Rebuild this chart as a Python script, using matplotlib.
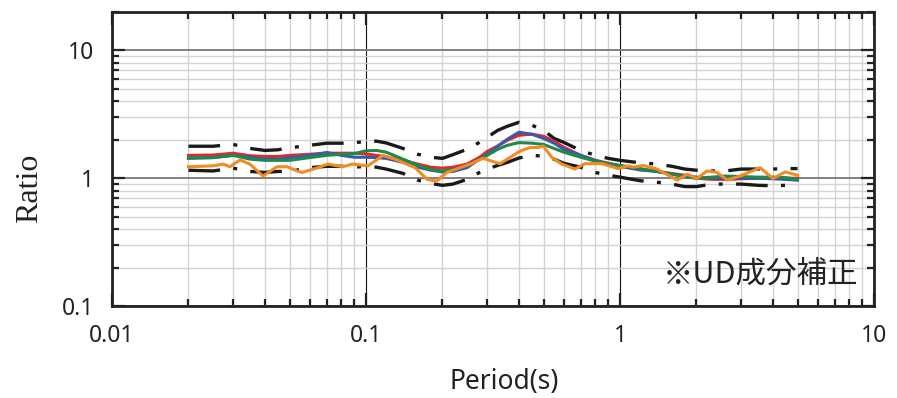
import numpy as np
import matplotlib
matplotlib.use("Agg")
import matplotlib.pyplot as plt
from matplotlib.ticker import LogLocator, FixedLocator, NullFormatter


# periods (s) shared by the mean / bound curves
period = [0.02, 0.025, 0.03, 0.035, 0.04, 0.045, 0.05, 0.06, 0.07, 0.08, 0.09,
          0.1, 0.11, 0.12, 0.14, 0.16, 0.18, 0.2, 0.22, 0.25, 0.28, 0.3, 0.33,
          0.36, 0.4, 0.45, 0.5, 0.55, 0.6, 0.7, 0.8, 0.9, 1.0, 1.2, 1.4, 1.6,
          1.8, 2.0, 2.3, 2.6, 3.0, 3.5, 4.0, 4.5, 5.0]

upper = [1.78, 1.78, 1.84, 1.71, 1.65, 1.67, 1.73, 1.81, 1.88, 1.88, 1.89,
         1.95, 1.95, 1.89, 1.71, 1.54, 1.46, 1.43, 1.53, 1.685, 1.91, 2.09, 2.37,
         2.55, 2.74, 2.60, 2.37, 2.05, 1.91, 1.65, 1.51, 1.43, 1.38, 1.32, 1.29,
         1.24, 1.18, 1.155, 1.14, 1.14, 1.18, 1.18, 1.18, 1.19, 1.19]

lower = [1.155, 1.14, 1.20, 1.13, 1.11, 1.13, 1.13, 1.21, 1.24, 1.24, 1.22,
         1.24, 1.22, 1.18, 1.09, 0.965, 0.91, 0.88, 0.90, 0.98, 1.11, 1.18, 1.26,
         1.33, 1.44, 1.51, 1.49, 1.41, 1.31, 1.22, 1.11, 1.055, 1.02, 0.956, 0.93,
         0.90, 0.86, 0.86, 0.90, 0.90, 0.90, 0.88, 0.874, 0.88, 0.85]

red = [1.51, 1.52, 1.57, 1.50, 1.48, 1.48, 1.51, 1.54, 1.57, 1.57, 1.57,
       1.55, 1.51, 1.47, 1.38, 1.29, 1.22, 1.20, 1.22, 1.29, 1.46, 1.62, 1.79,
       1.98, 2.17, 2.21, 2.13, 1.95, 1.75, 1.51, 1.38, 1.31, 1.25, 1.176, 1.13,
       1.09, 1.055, 1.00, 0.98, 0.98, 0.99, 1.00, 1.00, 1.00, 1.00]

blue = [1.43, 1.45, 1.51, 1.46, 1.41, 1.41, 1.45, 1.51, 1.59, 1.51, 1.46,
        1.46, 1.45, 1.43, 1.33, 1.22, 1.155, 1.12, 1.13, 1.21, 1.41, 1.54, 1.78,
        2.02, 2.29, 2.21, 2.05, 1.88, 1.685, 1.51, 1.38, 1.29, 1.24, 1.16, 1.13,
        1.075, 1.04, 1.02, 1.00, 1.00, 1.00, 1.00, 0.99, 0.98, 0.965]

green = [1.45, 1.45, 1.51, 1.41, 1.38, 1.38, 1.38, 1.45, 1.51, 1.54, 1.56,
         1.64, 1.65, 1.60, 1.41, 1.26, 1.17, 1.14, 1.176, 1.25, 1.41, 1.51, 1.685,
         1.81, 1.90, 1.88, 1.84, 1.71, 1.60, 1.46, 1.36, 1.30, 1.26, 1.19, 1.13,
         1.075, 1.03, 1.00, 1.02, 1.04, 1.03, 1.02, 1.02, 1.01, 0.98]

# orange curve is jagged, read on its own periods
period_orange = [0.02, 0.025, 0.0274, 0.0291, 0.0319, 0.0349, 0.0393, 0.0446,
                 0.0489, 0.0535, 0.056, 0.0647, 0.0708, 0.0811, 0.0881, 0.1018,
                 0.1167, 0.130, 0.156, 0.174, 0.190, 0.208, 0.257, 0.289, 0.337,
                 0.404, 0.443, 0.476, 0.498, 0.540, 0.591, 0.665, 0.728, 0.849,
                 0.982, 1.074, 1.125, 1.232, 1.40, 1.68, 1.84, 2.01, 2.20, 2.41,
                 2.64, 2.97, 3.56, 4.0, 4.47, 5.0]
orange = [1.23, 1.25, 1.29, 1.23, 1.39, 1.29, 1.04, 1.23, 1.23, 1.14,
          1.11, 1.21, 1.29, 1.23, 1.29, 1.25, 1.51, 1.41, 1.21, 0.98,
          0.95, 1.11, 1.29, 1.43, 1.30, 1.63, 1.74, 1.74, 1.79, 1.45,
          1.29, 1.18, 1.30, 1.30, 1.19, 1.25, 1.22, 1.26, 1.18, 0.965,
          1.075, 0.995, 1.14, 1.11, 0.97, 1.04, 1.21, 0.995, 1.12, 1.055]

xticks = [0.01, 0.1, 1, 10]
xtick_labels = ["0.01", "0.1", "1", "10"]
yticks = [0.1, 1, 10]
ytick_labels = ["0.1", "1", "10"]

SANS = ["Noto Sans", "DejaVu Sans"]
CJK = ["Noto Sans CJK JP", "DejaVu Sans"]


def style_axes(ax) -> None:
    ax.set_xscale("log")
    ax.set_yscale("log")
    ax.set_xlim(0.01, 10)
    ax.set_ylim(0.1, 20)

    ax.xaxis.set_major_locator(FixedLocator(xticks))
    ax.yaxis.set_major_locator(FixedLocator(yticks))
    ax.xaxis.set_minor_locator(LogLocator(base=10, subs=np.arange(2, 10)))
    ax.yaxis.set_minor_locator(LogLocator(base=10, subs=np.arange(2, 10)))
    ax.xaxis.set_minor_formatter(NullFormatter())
    ax.yaxis.set_minor_formatter(NullFormatter())
    ax.set_xticklabels(xtick_labels, fontfamily=SANS, fontsize=16.5, color="#222222")
    ax.set_yticklabels(ytick_labels, fontfamily=SANS, fontsize=16.5, color="#222222")

    ax.tick_params(which="both", direction="in", top=True, right=True,
                   color="#222222", width=1.6)
    ax.tick_params(which="major", length=9.5, pad=13)
    ax.tick_params(which="minor", length=5)

    # grid: light minor lines, darker majors (x black, y grey)
    ax.grid(which="minor", color="#d2d2d2", linewidth=1.0)
    ax.grid(which="major", axis="x", color="#111111", linewidth=0.8)
    ax.grid(which="major", axis="y", color="#808080", linewidth=1.4)
    ax.set_axisbelow(True)

    for sp in ax.spines.values():
        sp.set_linewidth(2.0)
        sp.set_color("#222222")


if __name__ == "__main__":

    fig = plt.figure(figsize=(8.97, 3.98), dpi=100)
    ax = fig.add_axes([112 / 897, 1 - 306 / 398, (874 - 112) / 897, (306 - 12) / 398])
    style_axes(ax)

    dashdot = (0, (9.5, 4, 1.2, 4))
    ax.plot(period, upper, color="#1a1a1a", lw=2.4, linestyle=dashdot)
    ax.plot(period, lower, color="#1a1a1a", lw=2.4, linestyle=dashdot)
    ax.plot(period, red, color="#e8262b", lw=2.2)
    ax.plot(period, blue, color="#3a5ba9", lw=2.2)
    ax.plot(period, green, color="#1c8a48", lw=2.2)
    ax.plot(period_orange, orange, color="#f38a24", lw=2.2)

    fig.text(30 / 897, 1 - 188 / 398, "Ratio", rotation=90, ha="center", va="center",
             fontfamily=["Liberation Serif", "DejaVu Serif"], fontsize=23, color="#222222")
    fig.text(504 / 897, 1 - 382 / 398, "Period(s)", ha="center", va="center",
             fontfamily=SANS, fontsize=19, color="#222222")
    fig.text(858 / 897, 1 - 274 / 398, "※UD成分補正", ha="right", va="center",
             fontfamily=CJK, fontsize=22, color="#222222")

    fig.savefig("out.png", dpi=100)
